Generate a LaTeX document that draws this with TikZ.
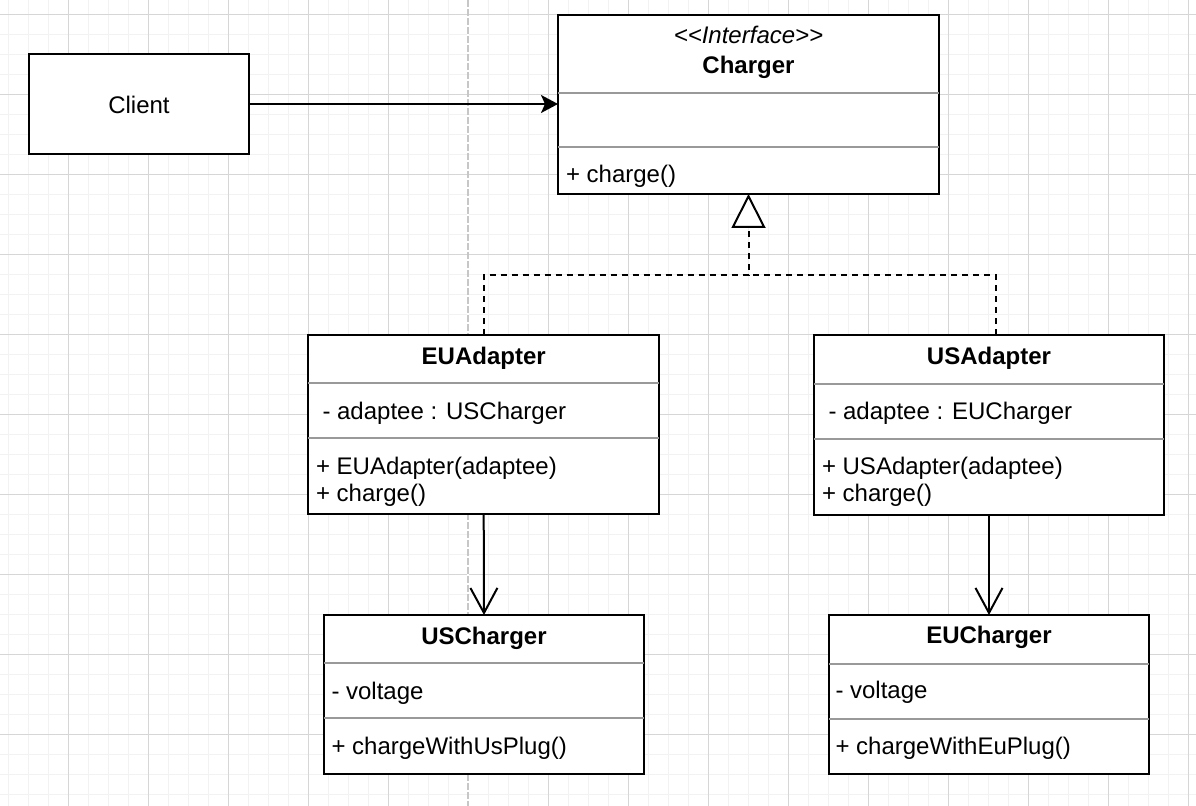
\documentclass[tikz,border=0pt]{standalone}
\usepackage{fontspec}
\setmainfont{Liberation Sans}
\usetikzlibrary{arrows.meta,calc}
\begin{document}
\begin{tikzpicture}[x=0.5pt,y=-0.5pt,
  minorgrid/.style={draw=black!5, line width=0.5pt},
  majorgrid/.style={draw=black!16, line width=0.5pt},
  pageline/.style={draw=black!22, line width=1pt, dash pattern=on 3.5pt off 1pt},
  classbox/.style={draw=black, fill=white, line width=1pt, inner sep=0pt, outer sep=0pt},
  sepline/.style={draw=black!40, line width=1pt},
  txt/.style={inner sep=0pt, outer sep=0pt, font=\fontsize{12}{13.7}\selectfont},
  txtbf/.style={txt, font=\fontsize{12}{13.7}\selectfont\bfseries},
  txtit/.style={txt, font=\fontsize{12}{13.7}\selectfont\itshape},
  assoc/.style={draw=black, line width=1pt, -{Stealth[length=8.5pt,width=9pt,inset=2pt]}},
  dep/.style={draw=black, line width=1pt, -{Straight Barb[length=12.5pt,width=13.5pt]}},
  realize/.style={draw=black, line width=1pt, dash pattern=on 3pt off 2.5pt},
  realizetip/.style={realize, -{Triangle[length=17pt,width=17pt,fill=white]}}
]
\useasboundingbox (0,0) rectangle (1196,806);
\fill[white] (0,0) rectangle (1196,806);
% grid
\foreach \i in {0,...,59} \draw[minorgrid] ({8.3+20*\i},0) -- ({8.3+20*\i},806);
\foreach \i in {0,...,39} \draw[minorgrid] (0,{14.3+20*\i}) -- (1196,{14.3+20*\i});
\foreach \i in {0,...,14} \draw[majorgrid] ({68.3+80*\i},0) -- ({68.3+80*\i},806);
\foreach \i in {0,...,9} \draw[majorgrid] (0,{14.3+80*\i}) -- (1196,{14.3+80*\i});
\fill[white] (467.3,0) rectangle (469.3,806);
\draw[pageline] (468.3,0) -- (468.3,806);

% Client
\node[classbox, minimum width=110pt, minimum height=50pt] (client) at (139,104) {};
\node[txt, anchor=base] (clientt) at (139,113.3) {Client};

% Charger interface
\node[classbox, minimum width=190.5pt, minimum height=89.5pt] (ch) at (748.5,104.5) {};
\draw[sepline] (ch.west |- 0,92.7) -- (ch.east |- 0,92.7);
\draw[sepline] (ch.west |- 0,146.7) -- (ch.east |- 0,146.7);
\node[txtit, anchor=base] (chs) at (748.5,44) {<{}<Interface>{}>};
\node[txtbf, anchor=base] (chn) at (748.5,73.3) {Charger};
\node[txt, anchor=base west] (chm) at (566,182.5) {+ charge()};

% EUAdapter
\node[classbox, minimum width=175.35pt, minimum height=89.65pt] (eua) at (483.7,424.7) {};
\draw[sepline] (eua.west |- 0,383.3) -- (eua.east |- 0,383.3);
\draw[sepline] (eua.west |- 0,438.3) -- (eua.east |- 0,438.3);
\node[txtbf, anchor=base] (euan) at (483.7,364.3) {EUAdapter};
\node[txt, anchor=base west] (euaa) at (322.5,419.3) {- adaptee : USCharger};
\node[txt, anchor=base west] (euam1) at (316,474.3) {+ EUAdapter(adaptee)};
\node[txt, anchor=base west] (euam2) at (316,501.7) {+ charge()};

% USAdapter
\node[classbox, minimum width=175pt, minimum height=90pt] (usa) at (989,425) {};
\draw[sepline] (usa.west |- 0,384) -- (usa.east |- 0,384);
\draw[sepline] (usa.west |- 0,439) -- (usa.east |- 0,439);
\node[txtbf, anchor=base] (usan) at (989,364.3) {USAdapter};
\node[txt, anchor=base west] (usaa) at (828.5,419.3) {- adaptee : EUCharger};
\node[txt, anchor=base west] (usam1) at (822,474.3) {+ USAdapter(adaptee)};
\node[txt, anchor=base west] (usam2) at (822,501.5) {+ charge()};

% USCharger
\node[classbox, minimum width=160pt, minimum height=79.65pt] (usc) at (484,694.7) {};
\draw[sepline] (usc.west |- 0,663.3) -- (usc.east |- 0,663.3);
\draw[sepline] (usc.west |- 0,718.3) -- (usc.east |- 0,718.3);
\node[txtbf, anchor=base] (uscn) at (484,644.3) {USCharger};
\node[txt, anchor=base west] (usca) at (331.5,699.3) {- voltage};
\node[txt, anchor=base west] (uscm) at (331.5,754.3) {+ chargeWithUsPlug()};

% EUCharger
\node[classbox, minimum width=160pt, minimum height=79.65pt] (euc) at (989,694.7) {};
\draw[sepline] (euc.west |- 0,664) -- (euc.east |- 0,664);
\draw[sepline] (euc.west |- 0,719) -- (euc.east |- 0,719);
\node[txtbf, anchor=base] (eucn) at (989,643.8) {EUCharger};
\node[txt, anchor=base west] (euca) at (835.5,698.8) {- voltage};
\node[txt, anchor=base west] (eucm) at (835.5,754.3) {+ chargeWithEuPlug()};

% connectors
\draw[assoc] (client.east) -- (client.east -| ch.west);
\coordinate (j) at (748.5,275);
\draw[realizetip] (eua.north) |- (j) -- (ch.south);
\draw[realize] ($(usa.north)+(7,0)$) |- (j);
\draw[dep] (eua.south) -- (usc.north);
\draw[dep] (usa.south) -- (euc.north);
\end{tikzpicture}
\end{document}
